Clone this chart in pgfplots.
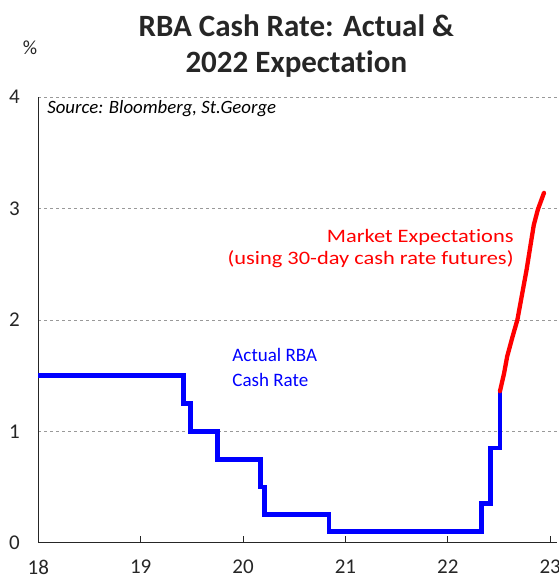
\documentclass[border=0pt]{standalone}
\usepackage{pgfplots}
\pgfplotsset{compat=1.18}
\usepackage{fontspec}
\setmainfont{Carlito}[Ligatures=CommonOff]
\usetikzlibrary{calc}
\definecolor{txt}{HTML}{262626}
\begin{document}
\begin{tikzpicture}
\begin{axis}[name=ax,
  scale only axis, width=519pt, height=445.7pt,
  xmin=18, xmax=23.07, ymin=0, ymax=4,
  axis x line*=bottom, axis y line*=left,
  axis line style={-, color=txt, line width=1pt},
  xtick={18,19,20,21,22,23}, ytick={0,1,2,3,4},
  xtick pos=bottom, tick align=inside,
  major tick length=7pt,
  x tick style={color=txt, line width=0.8pt},
  y tick style={draw=none},
  ymajorgrids, grid style={dashed, gray!80, line width=0.6pt},
  tick label style={font=\fontsize{21}{24}\selectfont, color=txt},
  /pgf/number format/assume math mode=true,
  xticklabel style={yshift=-14pt},
  yticklabel style={xshift=-15pt},
  clip=false,
]
\addplot[blue, line width=4.8pt, line join=miter] coordinates {
(18,1.5) (19.42,1.5) (19.42,1.25) (19.49,1.25) (19.49,1.0) (19.75,1.0) (19.75,0.75)
(20.17,0.75) (20.17,0.5) (20.21,0.5) (20.21,0.25) (20.84,0.25) (20.84,0.1)
(22.33,0.1) (22.33,0.35) (22.42,0.35) (22.42,0.85) (22.51,0.85) (22.51,1.36)
};
\addplot[red, line width=4.3pt, line cap=round] coordinates {
(22.51,1.36) (22.55,1.52) (22.58,1.67) (22.63,1.84) (22.68,2.0) (22.72,2.2) (22.77,2.45)
(22.81,2.68) (22.84,2.85) (22.88,2.99) (22.94,3.14)
};
\node[anchor=west, font=\fontsize{18.8}{21}\selectfont\itshape, color=black, inner sep=0pt] at (rel axis cs:0.017,0.973) {Source: Bloomberg, St.George};
\node[anchor=west, align=left, blue, font=\fontsize{19}{25}\selectfont, inner sep=0pt] at (axis cs:19.895,1.573) {Actual RBA\\Cash Rate};
\node[anchor=east, align=right, red, font=\fontsize{19}{22}\selectfont, xscale=1.18, transform shape, inner sep=0pt] at (axis cs:22.645,2.636) {Market Expectations\\(using 30-day cash rate futures)};
\end{axis}
\node[align=center, font=\fontsize{31}{36}\selectfont\bfseries, color=txt] at ($(ax.north west)+(258pt,51pt)$) {RBA Cash Rate: Actual \&\\2022 Expectation};
\node[font=\fontsize{20}{22}\selectfont, color=txt] at ($(ax.north west)+(-8.3pt,49pt)$) {\%};
\pgfresetboundingbox
\path ($(ax.south west)+(-38.3pt,-38.3pt)$) rectangle ($(ax.north east)+(1pt,97pt)$);
\end{tikzpicture}
\end{document}
